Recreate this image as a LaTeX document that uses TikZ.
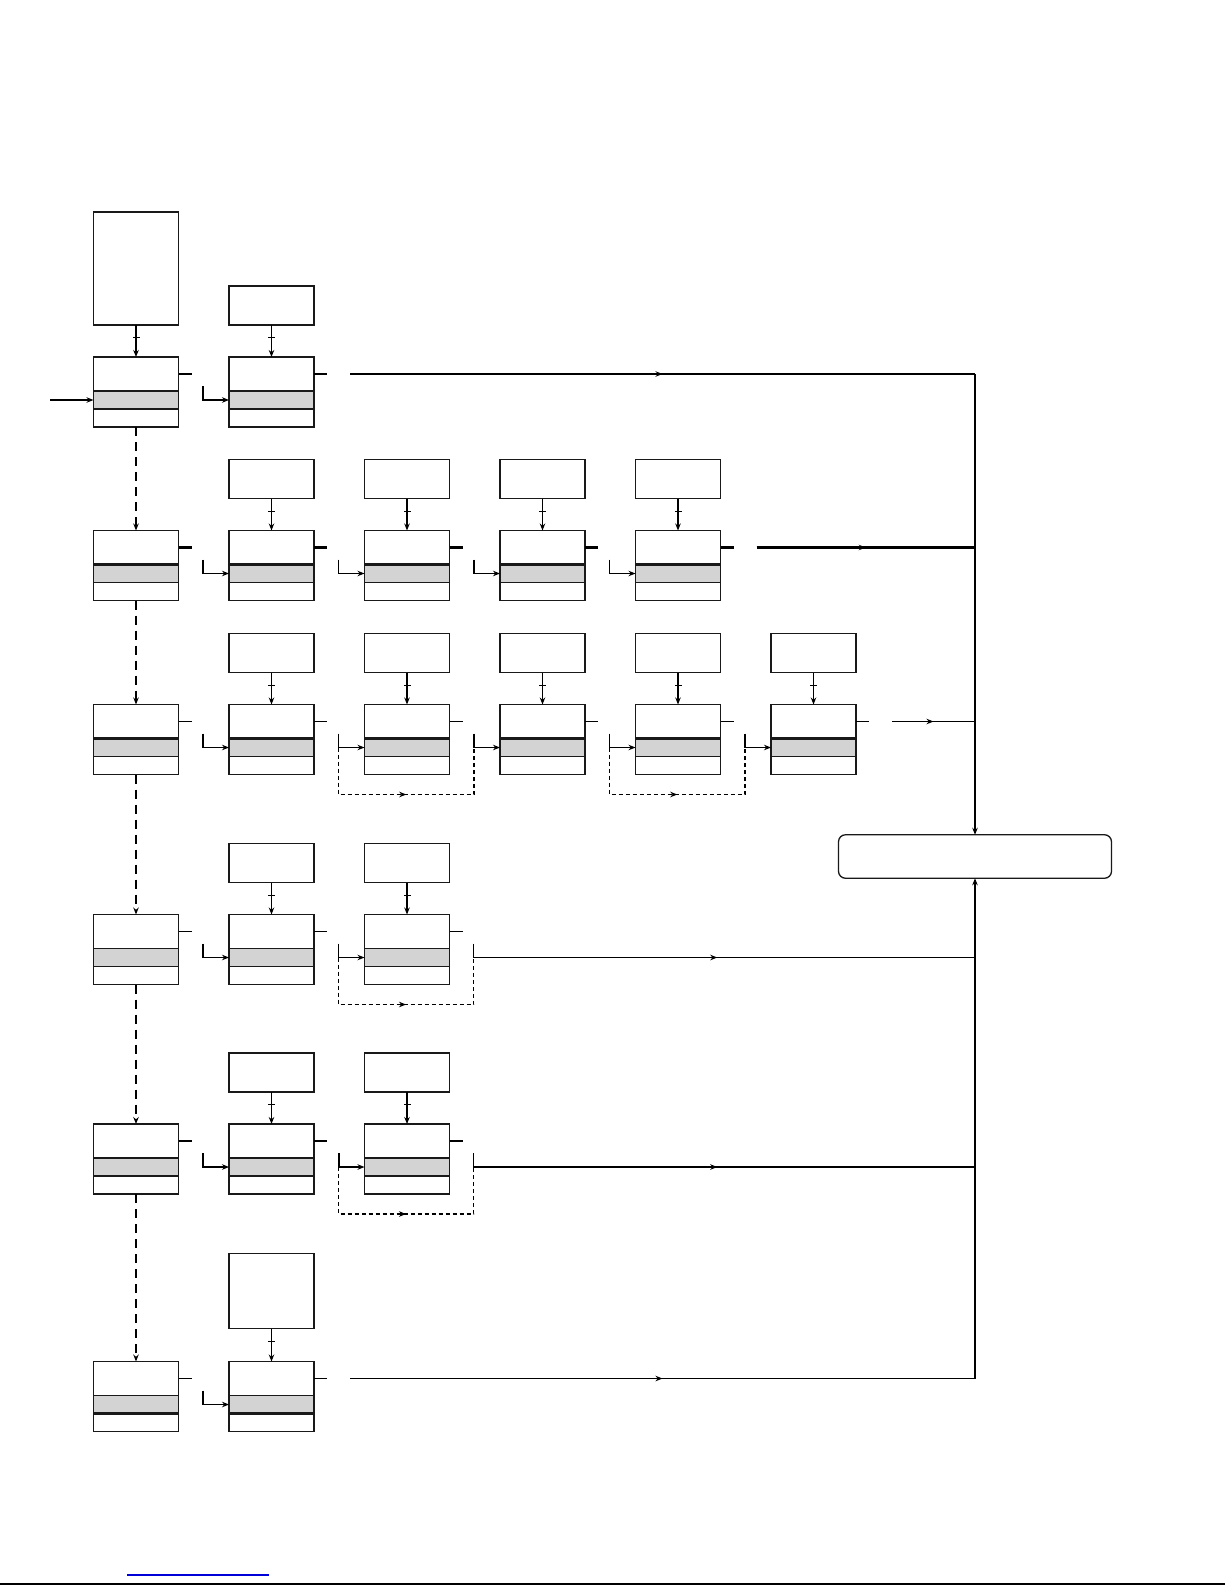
\documentclass[tikz,border=0pt]{standalone}
\usepackage{xcolor}
\usepackage{tikz}
\usetikzlibrary{arrows.meta, positioning, decorations.markings, calc}
\definecolor{bandgray}{RGB}{211,211,211}

\begin{document}
\begin{tikzpicture}[
    x=1pt, y=-1pt,
    node distance=50.5pt,
    % Styles
    block/.style 2 args={rectangle, draw=black!90, line width=1.4pt, minimum width=85pt, minimum height=70pt, inner sep=0pt, outer sep=0pt,
        path picture={
            \fill[bandgray] ([yshift=-34pt]path picture bounding box.north west) rectangle ([yshift=-52pt]path picture bounding box.north east);
            \draw[line width=#1] ([yshift=-34pt]path picture bounding box.north west) -- ([yshift=-34pt]path picture bounding box.north east);
            \draw[line width=#2] ([yshift=-52pt]path picture bounding box.north west) -- ([yshift=-52pt]path picture bounding box.north east);
        }},
    blockA/.style={block={1.3pt}{2.4pt}},
    blockB/.style={block={2.4pt}{1.3pt}},
    blockC/.style={block={1.3pt}{1.3pt}},
    source/.style={rectangle, draw=black!90, line width=1.3pt, minimum width=85pt, minimum height=39pt, inner sep=0pt, outer sep=0pt},
    merger/.style={rectangle, rounded corners=7pt, draw=black!90, line width=1.3pt, minimum width=273pt, minimum height=43.5pt, inner sep=0pt, outer sep=0pt},
    feed/.style={-{Stealth[length=7pt, width=5.5pt]}, line width=1.2pt},
    chain/.style={-{Stealth[length=7pt, width=5.5pt]}, line width=2.2pt, dash pattern=on 9pt off 6pt},
    skipline/.style={line width=1.9pt, dash pattern=on 4pt off 3pt},
    stub/.style={line width=1.2pt},
    heavy/.style={line width=2.5pt},
    midarrow/.style={postaction={decorate}, decoration={markings, mark=at position 0.5 with {\arrow{Stealth[length=7pt, width=5.5pt]}}}},
    tickmark/.style={fill=black, minimum width=7pt, minimum height=1.2pt, inner sep=0pt, outer sep=0pt}
]
    \useasboundingbox (0,0) rectangle (1225,1585);

    % Row 1
    \node[blockA] (blk11) at (136,392) {};
    \node[blockA, right=of blk11] (blk12) {};
    \node[source, minimum height=113pt, above=32pt of blk11] (src11) {};
    \node[source, above=32pt of blk12] (src12) {};

    % Row 2
    \node[blockB] (blk21) at (136,565.5) {};
    \node[blockB, right=of blk21] (blk22) {};
    \node[blockB, right=of blk22] (blk23) {};
    \node[blockB, right=of blk23] (blk24) {};
    \node[blockB, right=of blk24] (blk25) {};
    \node[source, above=32pt of blk22] (src22) {};
    \node[source, above=32pt of blk23] (src23) {};
    \node[source, above=32pt of blk24] (src24) {};
    \node[source, above=32pt of blk25] (src25) {};

    % Row 3
    \node[blockB] (blk31) at (136,739.5) {};
    \node[blockB, right=of blk31] (blk32) {};
    \node[blockB, right=of blk32] (blk33) {};
    \node[blockB, right=of blk33] (blk34) {};
    \node[blockB, right=of blk34] (blk35) {};
    \node[blockB, right=of blk35] (blk36) {};
    \node[source, above=32pt of blk32] (src32) {};
    \node[source, above=32pt of blk33] (src33) {};
    \node[source, above=32pt of blk34] (src34) {};
    \node[source, above=32pt of blk35] (src35) {};
    \node[source, above=32pt of blk36] (src36) {};

    % Row 4
    \node[blockC] (blk41) at (136,949.5) {};
    \node[blockC, right=of blk41] (blk42) {};
    \node[blockC, right=of blk42] (blk43) {};
    \node[source, above=32pt of blk42] (src42) {};
    \node[source, above=32pt of blk43] (src43) {};

    % Row 5
    \node[blockA] (blk51) at (136,1159) {};
    \node[blockA, right=of blk51] (blk52) {};
    \node[blockA, right=of blk52] (blk53) {};
    \node[source, above=32pt of blk52] (src52) {};
    \node[source, above=32pt of blk53] (src53) {};

    % Row 6
    \node[blockA] (blk61) at (136,1396.5) {};
    \node[blockA, right=of blk61] (blk62) {};
    \node[source, minimum height=75pt, above=33pt of blk62] (src62) {};

    % Merge box and bus points
    \node[merger] (merge) at (975,856.5) {};
    \coordinate (entry) at (50,400);
    \coordinate (bus1) at (975,374);
    \coordinate (bus2) at (975,547.5);
    \coordinate (bus3) at (975,721.5);
    \coordinate (bus4) at (975,957.5);
    \coordinate (bus5) at (975,1167);
    \coordinate (bus6) at (975,1378.5);

    % Feeds from sources
    \draw[feed] (src11) -- node[tickmark, pos=0.4] {} (blk11);
    \draw[feed] (src12) -- node[tickmark, pos=0.4] {} (blk12);
    \draw[feed] (src22) -- node[tickmark, pos=0.4] {} (blk22);
    \draw[feed] (src23) -- node[tickmark, pos=0.4] {} (blk23);
    \draw[feed] (src24) -- node[tickmark, pos=0.4] {} (blk24);
    \draw[feed] (src25) -- node[tickmark, pos=0.4] {} (blk25);
    \draw[feed] (src32) -- node[tickmark, pos=0.4] {} (blk32);
    \draw[feed] (src33) -- node[tickmark, pos=0.4] {} (blk33);
    \draw[feed] (src34) -- node[tickmark, pos=0.4] {} (blk34);
    \draw[feed] (src35) -- node[tickmark, pos=0.4] {} (blk35);
    \draw[feed] (src36) -- node[tickmark, pos=0.4] {} (blk36);
    \draw[feed] (src42) -- node[tickmark, pos=0.4] {} (blk42);
    \draw[feed] (src43) -- node[tickmark, pos=0.4] {} (blk43);
    \draw[feed] (src52) -- node[tickmark, pos=0.4] {} (blk52);
    \draw[feed, line width=1.8pt] (src53) -- node[tickmark, pos=0.4] {} (blk53);
    \draw[feed] (src62) -- node[tickmark, pos=0.4] {} (blk62);

    % Chain down the left column
    \draw[chain] (blk11) -- (blk21);
    \draw[chain] (blk21) -- (blk31);
    \draw[chain] (blk31) -- (blk41);
    \draw[chain] (blk41) -- (blk51);
    \draw[chain] (blk51) -- (blk61);

    % Stubs
    \draw[heavy] ([yshift=18pt]blk11.east) -- ++(13,0) ([yshift=18pt]blk12.east) -- ++(13,0);
    \draw[heavy] ([yshift=18pt]blk21.east) -- ++(13,0) ([yshift=18pt]blk22.east) -- ++(13,0)
        ([yshift=18pt]blk23.east) -- ++(13,0) ([yshift=18pt]blk24.east) -- ++(13,0) ([yshift=18pt]blk25.east) -- ++(13,0);
    \draw[stub] ([yshift=18pt]blk31.east) -- ++(13,0) ([yshift=18pt]blk32.east) -- ++(13,0) ([yshift=18pt]blk33.east) -- ++(13,0)
        ([yshift=18pt]blk34.east) -- ++(13,0) ([yshift=18pt]blk35.east) -- ++(13,0) ([yshift=18pt]blk36.east) -- ++(13,0);
    \draw[stub] ([yshift=18pt]blk41.east) -- ++(13,0) ([yshift=18pt]blk42.east) -- ++(13,0) ([yshift=18pt]blk43.east) -- ++(13,0);
    \draw[stub] ([yshift=18pt]blk51.east) -- ++(13,0) ([yshift=18pt]blk52.east) -- ++(13,0) ([yshift=18pt]blk53.east) -- ++(13,0);
    \draw[stub] ([yshift=18pt]blk61.east) -- ++(13,0) ([yshift=18pt]blk62.east) -- ++(13,0);

    % Inputs
    \draw[feed] (entry) -- (entry -| blk11.west);
    \draw[feed] ([xshift=-26pt,yshift=6pt]blk12.west) |- ([yshift=-8pt]blk12.west);
    \draw[feed] ([xshift=-26pt,yshift=6pt]blk22.west) |- ([yshift=-8pt]blk22.west);
    \draw[feed] ([xshift=-26pt,yshift=6pt]blk23.west) |- ([yshift=-8pt]blk23.west);
    \draw[feed] ([xshift=-26pt,yshift=6pt]blk24.west) |- ([yshift=-8pt]blk24.west);
    \draw[feed] ([xshift=-26pt,yshift=6pt]blk25.west) |- ([yshift=-8pt]blk25.west);
    \draw[feed] ([xshift=-26pt,yshift=6pt]blk32.west) |- ([yshift=-8pt]blk32.west);
    \draw[feed] ([xshift=-26pt,yshift=6pt]blk33.west) |- ([yshift=-8pt]blk33.west);
    \draw[feed] ([xshift=-26pt,yshift=6pt]blk34.west) |- ([yshift=-8pt]blk34.west);
    \draw[feed] ([xshift=-26pt,yshift=6pt]blk35.west) |- ([yshift=-8pt]blk35.west);
    \draw[feed] ([xshift=-26pt,yshift=6pt]blk36.west) |- ([yshift=-8pt]blk36.west);
    \draw[feed] ([xshift=-26pt,yshift=6pt]blk42.west) |- ([yshift=-8pt]blk42.west);
    \draw[feed] ([xshift=-26pt,yshift=6pt]blk43.west) |- ([yshift=-8pt]blk43.west);
    \draw[feed] ([xshift=-26pt,yshift=6pt]blk52.west) |- ([yshift=-8pt]blk52.west);
    \draw[feed, line width=2pt] ([xshift=-26pt,yshift=6pt]blk53.west) |- ([yshift=-8pt]blk53.west);
    \draw[feed] ([xshift=-26pt,yshift=6pt]blk62.west) |- ([yshift=-8pt]blk62.west);

    % Skip loops
    \draw[skipline, midarrow] ([xshift=-26pt,yshift=-8pt]blk33.west) |- ([xshift=-26pt,yshift=-55pt]blk34.west) -- ([xshift=-26pt,yshift=-8pt]blk34.west);
    \draw[skipline, midarrow] ([xshift=-26pt,yshift=-8pt]blk35.west) |- ([xshift=-26pt,yshift=-55pt]blk36.west) -- ([xshift=-26pt,yshift=-8pt]blk36.west);
    \draw[skipline, midarrow] ([xshift=-26pt,yshift=-8pt]blk43.west) |- ([xshift=24pt,yshift=-55pt]blk43.east) -- ([xshift=24pt,yshift=-8pt]blk43.east);
    \draw[skipline, midarrow] ([xshift=-26pt,yshift=-8pt]blk53.west) |- ([xshift=24pt,yshift=-55pt]blk53.east) -- ([xshift=24pt,yshift=-8pt]blk53.east);

    % Outputs to the bus
    \draw[heavy, midarrow] ([xshift=36pt,yshift=18pt]blk12.east) -- (bus1);
    \draw[heavy, midarrow] ([xshift=36pt,yshift=18pt]blk25.east) -- (bus2);
    \draw[stub, midarrow] ([xshift=36pt,yshift=18pt]blk36.east) -- (bus3);
    \draw[stub, midarrow] ([xshift=24pt,yshift=6pt]blk43.east) |- (bus4);
    \draw[stub, midarrow] ([xshift=24pt,yshift=6pt]blk53.east) |- (bus5);
    \draw[stub, midarrow] ([xshift=36pt,yshift=18pt]blk62.east) -- (bus6);
    \draw[feed, line width=1.5pt] (bus1) -- (merge.north);
    \draw[feed, line width=1.5pt] (bus6) -- (merge.south);

    % Page rules
    \draw[blue!85!black, line width=1.3pt] (127,1575) -- (269,1575);
    \draw[line width=2pt] (0,1584) -- (1225,1584);
\end{tikzpicture}
\end{document}
